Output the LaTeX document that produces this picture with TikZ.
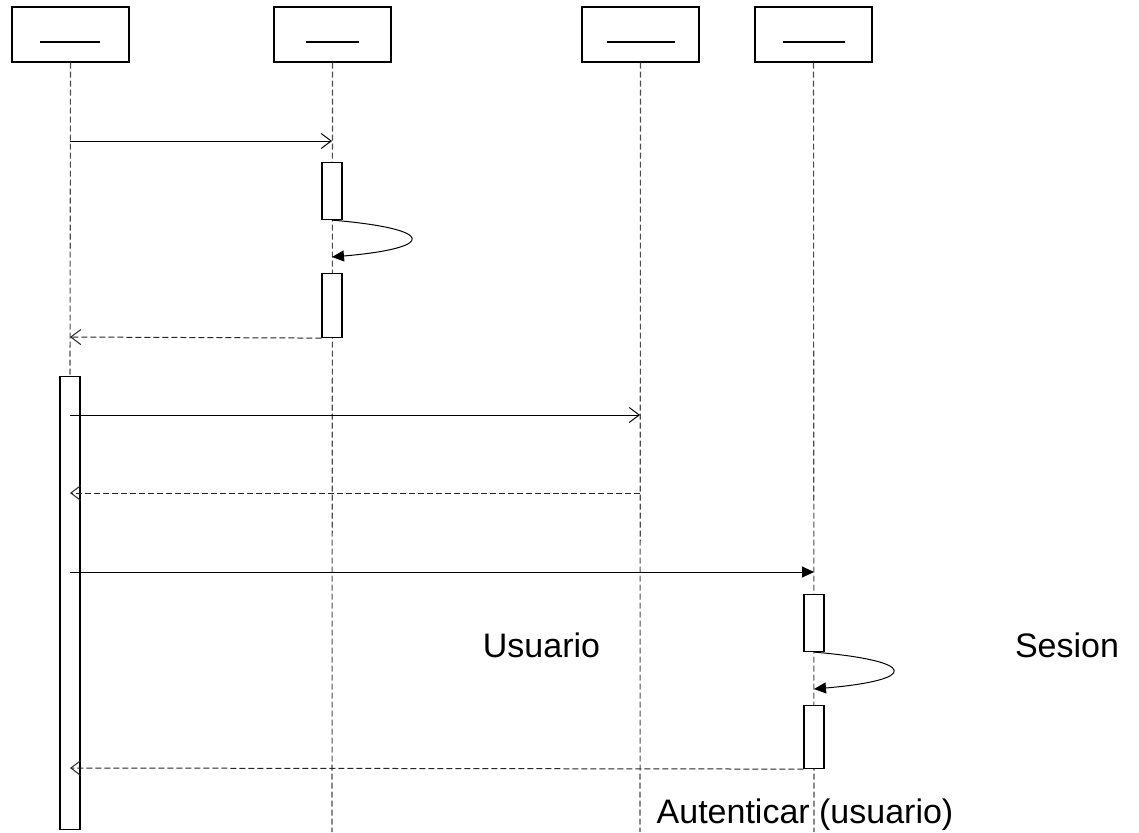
\documentclass[tikz,border=0pt]{standalone}
\usepackage{fontspec}
\setmainfont{Liberation Sans}
\usetikzlibrary{arrows.meta}
\usetikzlibrary{positioning}

\begin{document}
\begin{tikzpicture}[x=1pt, y=-1pt,
  obj/.style={draw, rectangle, fill=white, minimum width=117pt, minimum height=55pt, inner sep=0pt, line width=1.1pt},
  lifeline/.style={draw=black!70, dash pattern=on 6pt off 3pt, line width=1.1pt},
  act/.style={draw, rectangle, fill=white, minimum width=20pt, inner sep=0pt, anchor=north, line width=1.1pt},
  call/.style={line width=1pt, -{Straight Barb[length=10pt, width=15pt, line width=1pt]}},
  sync/.style={line width=1pt, -{Triangle[length=12pt, width=11pt]}},
  reply/.style={draw=black!85, line width=1pt, dash pattern=on 6pt off 3pt, -{Straight Barb[length=10pt, width=15pt, line width=1pt, sep=0pt]}},
  lbl/.style={inner sep=0pt, anchor=base, font=\fontsize{34}{40}\selectfont}]
\useasboundingbox (0,0) rectangle (1139,832);

% objects
\node[obj] (o1) at (70.5,34.5) {};
\node[obj] (o2) at (332.5,34.5) {};
\node[obj] (o3) at (640.5,34.5) {};
\node[obj] (o4) at (813.5,34.5) {};
\draw[line width=1.1pt] (40,42) -- (100,42);
\draw[line width=1.1pt] (306,42) -- (359,42);
\draw[line width=1.1pt] (607,42) -- (675,42);
\draw[line width=1.1pt] (783,42) -- (845,42);

% lifelines
\draw[lifeline] (o1.south) -- (70,376);
\draw[lifeline] (o2.south) -- (332,832);
\draw[lifeline] (o3.south) -- (640,832);
\draw[lifeline] (o4.south) -- (814,832);

% activations
\node[act, minimum height=57pt] (a1) at (332,162) {};
\node[act, minimum height=64pt] (a2) at (332,273) {};
\node[act, minimum height=453pt] (a3) at (70,376) {};
\node[act, minimum height=57pt] (a4) at (814,594) {};
\node[act, minimum height=63pt] (a5) at (814,705) {};

% message ends
\coordinate (m1s) at (70,141);   \coordinate (m1e) at (332,141);
\coordinate (r1e) at (70,337);
\coordinate (m2s) at (70,415);   \coordinate (m2e) at (640,415);
\coordinate (r2s) at (640,493);  \coordinate (r2e) at (70,493);
\coordinate (m3s) at (70,572);   \coordinate (m3e) at (814,572);
\coordinate (r3e) at (70,768);
\coordinate (s1e) at (332,257);
\coordinate (s2e) at (814,689);

% messages
\draw[call] (m1s) -- (m1e);
\draw[sync] (a1.south) .. controls (437,229) and (437,248) .. (s1e);
\draw[reply] (a2.south west) -- (r1e);
\draw[call] (m2s) -- (m2e);
\draw[reply] (r2s) -- (r2e);
\draw[sync] (m3s) -- (m3e);
\draw[sync] (a4.south) .. controls (919,661) and (919,680) .. (s2e);
\draw[reply] (a5.south west) -- (r3e);

% labels
\node[lbl] (usuario) at (541.5,657) {Usuario};
\node[lbl] (sesion) at (1067,657) {Sesion};
\node[lbl] (auten) at (805,823) {Autenticar (usuario)};
\end{tikzpicture}
\end{document}
